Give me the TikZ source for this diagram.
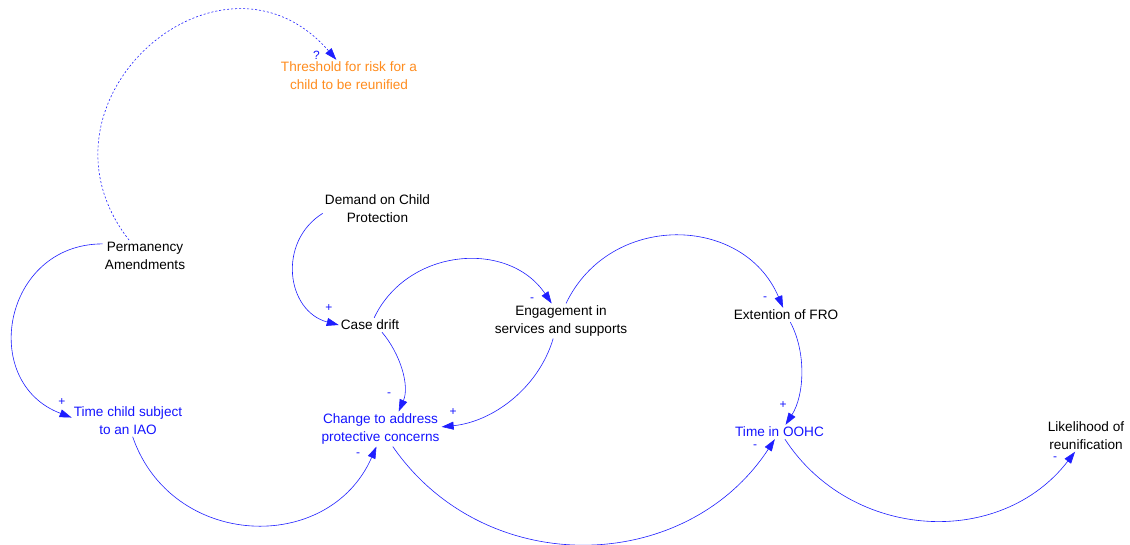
\documentclass[tikz,border=0pt]{standalone}
\usepackage{fontspec}
\setmainfont{Liberation Sans}
\usetikzlibrary{arrows.meta}
\definecolor{vblue}{RGB}{20,20,255}
\definecolor{lblue}{RGB}{30,30,255}
\definecolor{vorange}{RGB}{255,140,30}
\newcommand\cldvarfont{\fontsize{13.6}{18}\selectfont}
\newcommand\cldpolfont{\fontsize{12}{12}\selectfont}
\begin{document}
\begin{tikzpicture}[x=1pt,y=1pt,
  var/.style={align=center, inner sep=2pt, font=\cldvarfont},
  blk/.style={var, text=black},
  bvar/.style={var, text=vblue},
  ovar/.style={var, text=vorange},
  link/.style={draw=lblue, line width=0.6pt, -{Triangle[length=12pt,width=8pt]}},
  dotlink/.style={link, dash pattern=on 2pt off 2pt},
  pol/.style={text=vblue, font=\cldpolfont, inner sep=0pt}]
\useasboundingbox (0,0) rectangle (1130,-544);

% variables
\node[ovar] (thr)   at (349,-76)    {Threshold for risk for a\\child to be reunified};
\node[blk]  (perm)  at (145,-256)   {Permanency\\Amendments};
\node[bvar] (iao)   at (128,-420.5) {Time child subject\\to an IAO};
\node[blk]  (dem)   at (377.5,-208.5) {Demand on Child\\Protection};
\node[blk]  (drift) at (370,-325)   {Case drift};
\node[blk]  (eng)   at (561,-321)   {Engagement in\\services and supports};
\node[bvar] (chg)   at (380.5,-429) {Change to address\\protective concerns};
\node[blk]  (fro)   at (786,-315)   {Extention of FRO};
\node[bvar] (oohc)  at (779.5,-432) {Time in OOHC};
\node[blk]  (lik)   at (1086,-435.5) {Likelihood of\\reunification};

% causal links
\draw[dotlink] (perm.135) to[out=128,in=131,distance=176pt] (thr.128);
\draw[link] (perm.164) to[out=180,in=159.3,distance=99.7pt] (iao.177);
\draw[link] (iao.286) to[out=289,in=246.3,distance=118.8pt] (chg.257);
\draw[link] (dem.185) to[out=212,in=165.2,distance=54pt] (drift.180);
\draw[link] (drift.60) to[out=64.6,in=124,distance=77.4pt] (eng.118);
\draw[link] (drift.329) to[out=-49.6,in=66.4,distance=28.1pt] (chg.44);
\draw[link] (eng.246) to[out=-106.5,in=5.7,distance=51.5pt] (chg.2);
\draw[link] (eng.74) to[out=64.5,in=112.9,distance=101.6pt] (fro.112);
\draw[link] (fro.301) to[out=-62,in=57.4,distance=34.8pt] (oohc.50);
\draw[link] (chg.305) to[out=304.7,in=236.8,distance=162.5pt] (oohc.237);
\draw[link] (oohc.307) to[out=303.1,in=232.5,distance=121.9pt] (lik.236);

% link polarities
\node[pol] (pthr)   at (316.5,-55)  {?};
\node[pol] (piao)   at (62,-402)    {+};
\node[pol] (pchgA)  at (358,-455)   {-};
\node[pol] (pdrift) at (329,-308)   {+};
\node[pol] (peng)   at (532,-300)   {-};
\node[pol] (pchgB)  at (389,-395)   {-};
\node[pol] (pchgC)  at (453,-412)   {+};
\node[pol] (pfro)   at (765,-299)   {-};
\node[pol] (poohcA) at (783,-405)   {+};
\node[pol] (poohcB) at (755,-447)   {-};
\node[pol] (plik)   at (1055,-459)  {-};
\end{tikzpicture}
\end{document}
